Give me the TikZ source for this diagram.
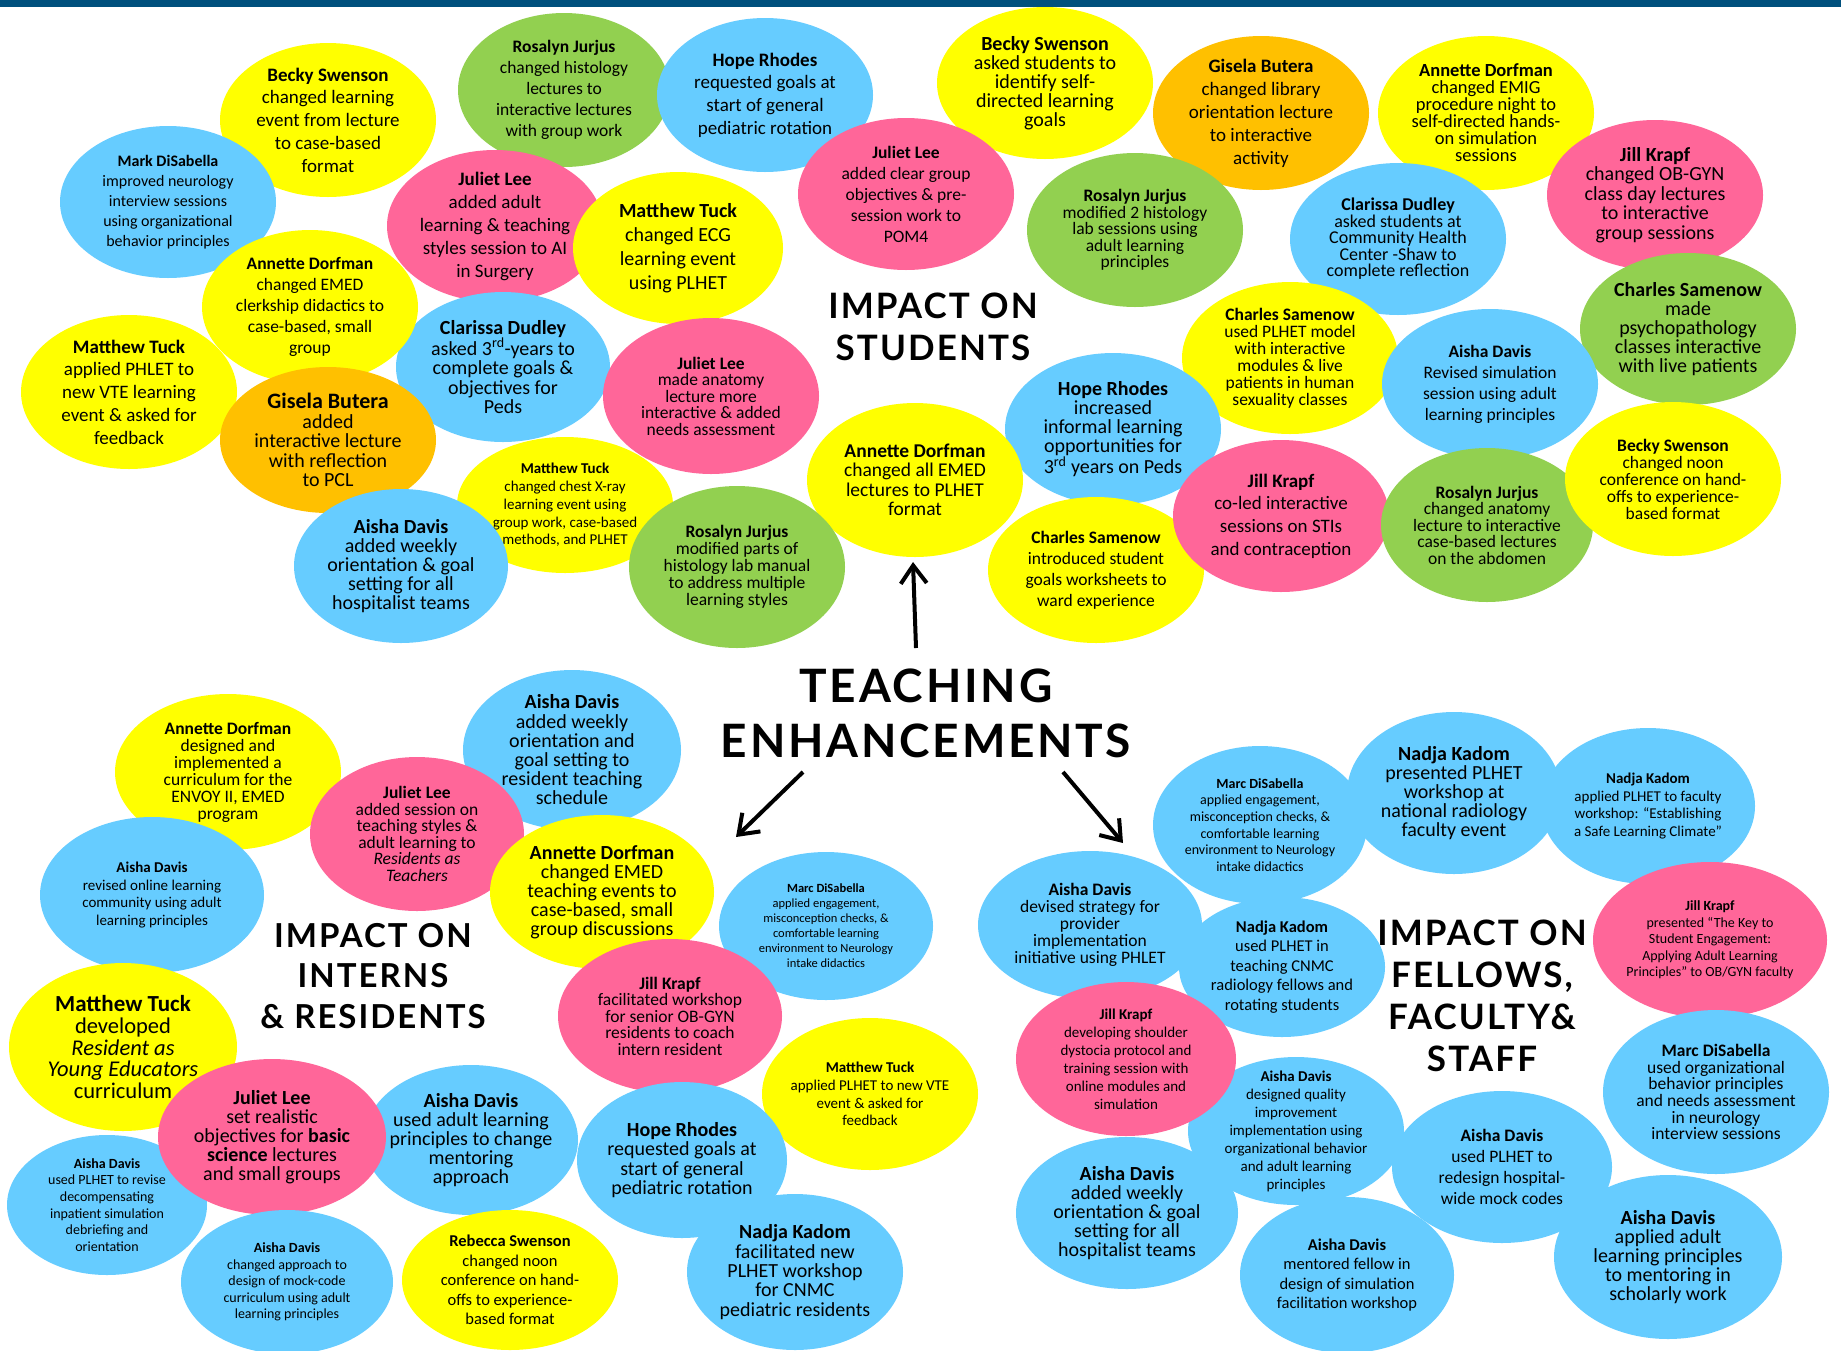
\documentclass[tikz,border=0pt]{standalone}
\usepackage{fontspec}
\setmainfont{Carlito}
\newfontfamily\titlefont{Lato}[LetterSpace=6]
\usepackage{tikz}
\usetikzlibrary{shapes.geometric, arrows.meta}

\definecolor{yel}{RGB}{255,255,0}
\definecolor{sky}{RGB}{102,204,255}
\definecolor{pnk}{RGB}{255,102,153}
\definecolor{grn}{RGB}{146,208,80}
\definecolor{org}{RGB}{255,192,0}
\definecolor{barblue}{RGB}{0,80,125}

\tikzset{
	bubble/.style={ellipse, minimum width=216pt, minimum height=154pt, inner sep=-20pt, align=center, text=black},
	sz/.style 2 args={minimum width=#1pt, minimum height=#2pt},
	fz/.style 2 args={font=\fontsize{#1}{#2}\selectfont},
	sectitle/.style={align=center, text=black},
	bigarrow/.style={line width=4pt, -{Straight Barb[length=18pt, width=26pt]}}
}

\begin{document}
\begin{tikzpicture}[x=1pt, y=-1pt]
	\useasboundingbox (0,0) rectangle (1841,1350);
	\clip (0,0) rectangle (1841,1350);
	\fill[white] (0,0) rectangle (1841,1350);
	\fill[barblue] (0,0) rectangle (1841,7);
	
	% impact on students
	\node[bubble, fill=yel, fz={19}{22.7}] (s1) at (328,120) {\textbf{Becky Swenson}\\changed learning\\event from lecture\\to case-based\\format};
	\node[bubble, fill=grn, sz={212}{154}, fz={17.5}{21}] (s2) at (564,90) {\textbf{Rosalyn Jurjus}\\changed histology\\lectures to\\interactive lectures\\with group work};
	\node[bubble, fill=sky, fz={19}{22.7}] (s3) at (765,95) {\textbf{Hope Rhodes}\\requested goals at\\start of general\\pediatric rotation};
	\node[bubble, fill=yel, sz={216}{152}, fz={20}{19}] (s4) at (1045,83) {\textbf{Becky Swenson}\\asked students to\\identify self-\\directed learning\\goals};
	\node[bubble, fill=org, fz={19}{23}] (s5) at (1261,113) {\textbf{Gisela Butera}\\changed library\\orientation lecture\\to interactive\\activity};
	\node[bubble, fill=yel, fz={18.5}{17}] (s6) at (1486,113) {\textbf{Annette Dorfman}\\changed EMIG\\procedure night to\\self-directed hands-\\on simulation\\sessions};
	\node[bubble, fill=sky, sz={216}{152}, fz={16}{20}] (s7) at (168,202) {\textbf{Mark DiSabella}\\improved neurology\\interview sessions\\using organizational\\behavior principles};
	\node[bubble, fill=pnk, sz={216}{152}, fz={19}{23}] (s8) at (495,226) {\textbf{Juliet Lee}\\added adult\\learning \& teaching\\styles session to AI\\in Surgery};
	\node[bubble, fill=yel, sz={210}{152}, fz={20}{24}] (s9) at (678,248) {\textbf{Matthew Tuck}\\changed ECG\\learning event\\using PLHET};
	\node[bubble, fill=pnk, sz={216}{152}, fz={17.5}{21}] (s10) at (906,194) {\textbf{Juliet Lee}\\added clear group\\objectives \& pre-\\session work to\\POM4};
	\node[bubble, fill=grn, fz={17.5}{16.6}] (s11) at (1135,230) {\textbf{Rosalyn Jurjus}\\modified 2 histology\\lab sessions using\\adult learning\\principles};
	\node[bubble, fill=sky, sz={216}{152}, fz={18}{16.5}] (s12) at (1398,239) {\textbf{Clarissa Dudley}\\asked students at\\Community Health\\Center -Shaw to\\complete reflection};
	\node[bubble, fill=pnk, sz={216}{150}, fz={20}{19.5}] (s13) at (1655,195) {\textbf{Jill Krapf}\\changed OB-GYN\\class day lectures\\to interactive\\group sessions};
	\node[bubble, fill=sky, sz={214}{150}, fz={20}{19.5}] (s15) at (503,367) {\textbf{Clarissa Dudley}\\asked 3\textsuperscript{rd}-years to\\complete goals \&\\objectives for\\Peds};
	\node[bubble, fill=yel, fz={17.5}{21}] (s14) at (310,307) {\textbf{Annette Dorfman}\\changed EMED\\clerkship didactics to\\case-based, small\\group};
	\node[bubble, fill=pnk, sz={216}{156}, fz={17.5}{16.5}] (s16) at (711,396) {\textbf{Juliet Lee}\\made anatomy\\lecture more\\interactive \& added\\needs assessment};
	\node[bubble, fill=yel, sz={216}{152}, fz={17.5}{17}] (s17) at (1290,358) {\textbf{Charles Samenow}\\used PLHET model\\with interactive\\modules \& live\\patients in human\\sexuality classes};
	\node[bubble, fill=grn, sz={216}{152}, fz={20}{19}] (s18) at (1688,329) {\textbf{Charles Samenow}\\made\\psychopathology\\classes interactive\\with live patients};
	\node[bubble, fill=yel, fz={19}{22.7}] (s19) at (129,392) {\textbf{Matthew Tuck}\\applied PHLET to\\new VTE learning\\event \& asked for\\feedback};
	\node[bubble, fill=org, sz={216}{146}, fz={20}{19.5}] (s20) at (328,440) {{\fontsize{22}{22}\selectfont\textbf{Gisela Butera}}\\added\\interactive lecture\\with reflection\\to PCL};
	\node[bubble, fill=sky, sz={216}{152}, fz={20}{19}] (s21) at (1113,429) {\textbf{Hope Rhodes}\\increased\\informal learning\\opportunities for\\3\textsuperscript{rd} years on Peds};
	\node[bubble, fill=sky, sz={216}{150}, fz={17.5}{21}] (s22) at (1490,384) {\textbf{Aisha Davis}\\Revised simulation\\session using adult\\learning principles};
	\node[bubble, fill=yel, sz={216}{136}, fz={15}{17.7}] (s24) at (565,505) {\textbf{Matthew Tuck}\\changed chest X-ray\\learning event using\\group work, case-based\\methods, and PLHET};
	\node[bubble, fill=yel, fz={19.5}{19.5}] (s23) at (915,480) {\textbf{Annette Dorfman}\\changed all EMED\\lectures to PLHET\\format};
	\node[bubble, fill=yel, sz={216}{146}, fz={17.5}{21}] (s25) at (1096,570) {\textbf{Charles Samenow}\\introduced student\\goals worksheets to\\ward experience};
	\node[bubble, fill=pnk, sz={216}{152}, fz={19}{22.7}] (s26) at (1281,516) {\textbf{Jill Krapf}\\co-led interactive\\sessions on STIs\\and contraception};
	\node[bubble, fill=grn, sz={212}{154}, fz={17.5}{16.5}] (s27) at (1487,525) {\textbf{Rosalyn Jurjus}\\changed anatomy\\lecture to interactive\\case-based lectures\\on the abdomen};
	\node[bubble, fill=yel, fz={17.5}{17}] (s28) at (1673,479) {\textbf{Becky Swenson}\\changed noon\\conference on hand-\\offs to experience-\\based format};
	\node[bubble, fill=sky, sz={214}{154}, fz={20}{19}] (s29) at (401,566) {\textbf{Aisha Davis}\\added weekly\\orientation \& goal\\setting for all\\hospitalist teams};
	\node[bubble, fill=grn, sz={216}{162}, fz={17.5}{17}] (s30) at (737,567) {\textbf{Rosalyn Jurjus}\\modified parts of\\histology lab manual\\to address multiple\\learning styles};
	
	% impact on interns and residents
	\node[bubble, fill=sky, sz={218}{160}, fz={20}{19.2}] (i1) at (572,750) {\textbf{Aisha Davis}\\added weekly\\orientation and\\goal setting to\\resident teaching\\schedule};
	\node[bubble, fill=yel, sz={226}{156}, fz={17.5}{17}] (i2) at (228,772) {\textbf{Annette Dorfman}\\designed and\\implemented a\\curriculum for the\\ENVOY II, EMED\\program};
	\node[bubble, fill=sky, sz={224}{156}, fz={15}{17.7}] (i4) at (152,895) {\textbf{Aisha Davis}\\revised online learning\\community using adult\\learning principles};
	\node[bubble, fill=pnk, sz={214}{154}, fz={17.5}{16.5}] (i3) at (417,834) {\textbf{Juliet Lee}\\added session on\\teaching styles \&\\adult learning to\\\textit{Residents as}\\\textit{Teachers}};
	\node[bubble, fill=yel, sz={224}{154}, fz={20}{19}] (i5) at (602,892) {\textbf{Annette Dorfman}\\changed EMED\\teaching events to\\case-based, small\\group discussions};
	\node[bubble, fill=sky, sz={214}{148}, fz={12.5}{15}] (i6) at (826,926) {\textbf{Marc DiSabella}\\applied engagement,\\misconception checks, \&\\comfortable learning\\environment to Neurology\\intake didactics};
	\node[bubble, fill=yel, sz={228}{168}, fz={22.5}{21.6}] (i7) at (123,1047) {{\fontsize{23}{22}\selectfont\textbf{Matthew Tuck}}\\developed\\\textit{Resident as}\\\textit{Young Educators}\\curriculum};
	\node[bubble, fill=sky, sz={200}{140}, fz={14}{16.7}] (i11) at (107,1205) {\textbf{Aisha Davis}\\used PLHET to revise\\decompensating\\inpatient simulation\\debriefing and\\orientation};
	\node[bubble, fill=sky, sz={214}{150}, fz={20}{19}] (i12) at (471,1140) {\textbf{Aisha Davis}\\used adult learning\\principles to change\\mentoring\\approach};
	\node[bubble, fill=pnk, sz={228}{156}, fz={20}{19}] (i8) at (272,1137) {\textbf{Juliet Lee}\\set realistic\\objectives for \textbf{basic}\\\textbf{science} lectures\\and small groups};
	\node[bubble, fill=yel, sz={216}{152}, fz={15}{17.7}] (i10) at (870,1094) {\textbf{Matthew Tuck}\\applied PLHET to new VTE\\event \& asked for\\feedback};
	\node[bubble, fill=pnk, sz={224}{154}, fz={17.5}{16.5}] (i9) at (670,1016) {\textbf{Jill Krapf}\\facilitated workshop\\for senior OB-GYN\\residents to coach\\intern resident};
	\node[bubble, fill=sky, sz={212}{144}, fz={14}{16.4}] (i14) at (287,1282) {\textbf{Aisha Davis}\\changed approach to\\design of mock-code\\curriculum using adult\\learning principles};
	\node[bubble, fill=yel, sz={216}{140}, fz={16.5}{19.5}] (i15) at (510,1280) {\textbf{Rebecca Swenson}\\changed noon\\conference on hand-\\offs to experience-\\based format};
	\node[bubble, fill=sky, sz={210}{156}, fz={20}{19.6}] (i13) at (682,1160) {\textbf{Hope Rhodes}\\requested goals at\\start of general\\pediatric rotation};
	\node[bubble, fill=sky, sz={216}{156}, fz={20}{19.3}] (i16) at (795,1272) {\textbf{Nadja Kadom}\\facilitated new\\PLHET workshop\\for CNMC\\pediatric residents};
	
	% impact on fellows, faculty and staff
	\node[bubble, fill=sky, sz={214}{158}, fz={14}{16.7}] (f1) at (1260,825) {\textbf{Marc DiSabella}\\applied engagement,\\misconception checks, \&\\comfortable learning\\environment to Neurology\\intake didactics};
	\node[bubble, fill=sky, sz={214}{162}, fz={20}{19}] (f2) at (1454,793) {\textbf{Nadja Kadom}\\presented PLHET\\workshop at\\national radiology\\faculty event};
	\node[bubble, fill=sky, sz={214}{156}, fz={15}{17.7}] (f3) at (1648,806) {\textbf{Nadja Kadom}\\applied PLHET to faculty\\workshop: “Establishing\\a Safe Learning Climate”};
	\node[bubble, fill=sky, sz={224}{148}, fz={17.5}{17}] (f4) at (1090,925) {\textbf{Aisha Davis}\\devised strategy for\\provider\\implementation\\initiative using PHLET};
	\node[bubble, fill=sky, sz={206}{140}, fz={16.5}{19.6}] (f5) at (1282,967) {\textbf{Nadja Kadom}\\used PLHET in\\teaching CNMC\\radiology fellows and\\rotating students};
	\node[bubble, fill=pnk, sz={234}{156}, fz={14}{16.5}] (f6) at (1710,940) {\textbf{Jill Krapf}\\presented “The Key to\\Student Engagement:\\Applying Adult Learning\\Principles” to OB/GYN faculty};
	\node[bubble, fill=sky, sz={226}{164}, fz={17.5}{16.7}] (f8) at (1716,1092) {\textbf{Marc DiSabella}\\used organizational\\behavior principles\\and needs assessment\\in neurology\\interview sessions};
	\node[bubble, fill=sky, sz={216}{148}, fz={15}{18}] (f9) at (1296,1131) {\textbf{Aisha Davis}\\designed quality\\improvement\\implementation using\\organizational behavior\\and adult learning\\principles};
	\node[bubble, fill=pnk, sz={220}{154}, fz={15}{18}] (f7) at (1126,1059) {\textbf{Jill Krapf}\\developing shoulder\\dystocia protocol and\\training session with\\online modules and\\simulation};
	\node[bubble, fill=sky, sz={222}{152}, fz={20}{19}] (f11) at (1127,1213) {\textbf{Aisha Davis}\\added weekly\\orientation \& goal\\setting for all\\hospitalist teams};
	\node[bubble, fill=sky, sz={214}{156}, fz={16.5}{19.6}] (f12) at (1347,1275) {\textbf{Aisha Davis}\\mentored fellow in\\design of simulation\\facilitation workshop};
	\node[bubble, fill=sky, sz={220}{152}, fz={17.5}{21}] (f10) at (1502,1167) {\textbf{Aisha Davis}\\used PLHET to\\redesign hospital-\\wide mock codes};
	\node[bubble, fill=sky, sz={228}{164}, fz={20}{19.2}] (f13) at (1668,1257) {\textbf{Aisha Davis}\\applied adult\\learning principles\\to mentoring in\\scholarly work};
	
	% section titles
	\node[sectitle, font=\titlefont\bfseries\fontsize{35}{42}\selectfont] (stu) at (933,327) {IMPACT ON\\STUDENTS};
	\node[sectitle, font=\titlefont\bfseries\fontsize{46}{55}\selectfont] (te) at (926,713) {TEACHING\\ENHANCEMENTS};
	\node[sectitle, font=\titlefont\bfseries\fontsize{33}{40.5}\selectfont] (ir) at (373,976) {IMPACT ON\\INTERNS\\\& RESIDENTS};
	\node[sectitle, font=\titlefont\bfseries\fontsize{35}{42}\selectfont] (ffs) at (1482,996) {IMPACT ON\\FELLOWS,\\FACULTY\&\\STAFF};
	
	% arrows
	\coordinate (upA) at (916,648);
	\coordinate (upB) at (913,562);
	\coordinate (leftA) at (803,772);
	\coordinate (leftB) at (736,837);
	\coordinate (rightA) at (1063,772);
	\coordinate (rightB) at (1123,843);
	\draw[bigarrow] (upA) -- (upB);
	\draw[bigarrow] (leftA) -- (leftB);
	\draw[bigarrow] (rightA) -- (rightB);
	
\end{tikzpicture}
\end{document}
